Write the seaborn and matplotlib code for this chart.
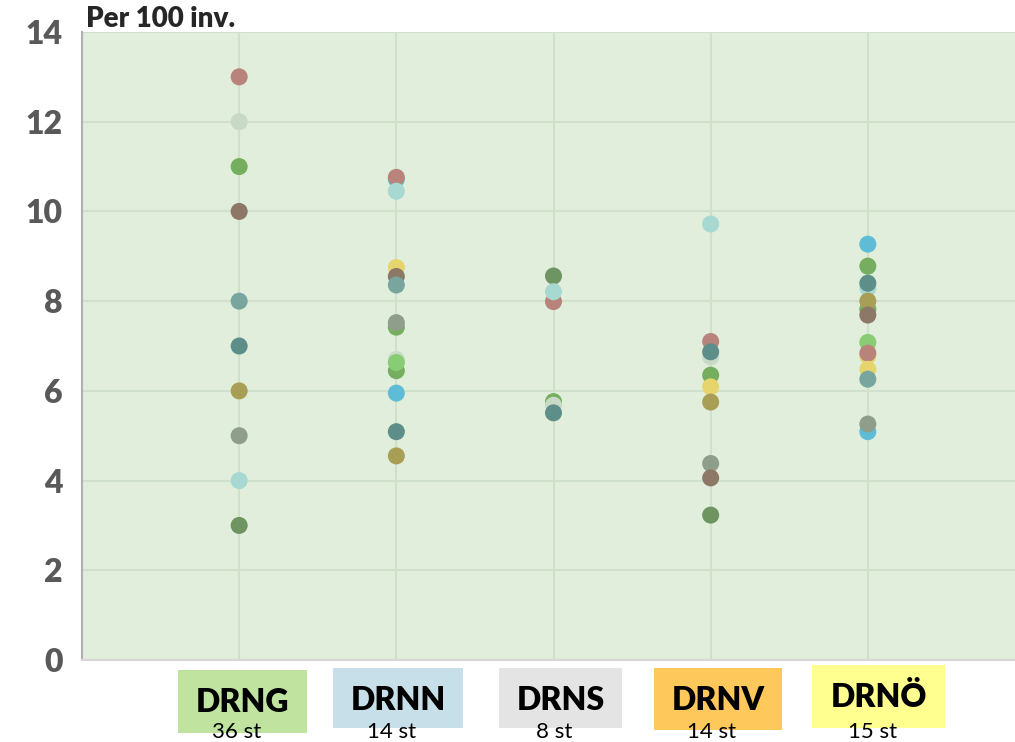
import pandas as pd
import seaborn as sns
from matplotlib import pyplot as plt
from matplotlib.patches import Rectangle

regions = ['DRNG', 'DRNN', 'DRNS', 'DRNV', 'DRNÖ']
counts = ['36 st', '14 st', '8 st', '14 st', '15 st']
box_colors = ['#c0e4a0', '#c6dfe8', '#e4e4e4', '#ffc85a', '#ffff90']

unit_colors = {
    'rb': '#b8837a', 'pale': '#c8dac6', 'green': '#74ae5e', 'brown': '#8d7868',
    'tealgrey': '#78a69e', 'darkteal': '#5e8e8a', 'olive': '#a89e56',
    'grey': '#8e9e8a', 'lteal': '#a8d8d2', 'dgreen': '#6e9462',
    'yellow': '#e6d46c', 'blue': '#5fbcd6', 'lgreen': '#88cc74',
}

drng_vals = [13, 12, 11, 10, 8, 7, 6, 5, 4, 3]
drng_cols = ['rb', 'pale', 'green', 'brown', 'tealgrey', 'darkteal', 'olive', 'grey', 'lteal', 'dgreen']
drnn_vals = [10.72, 10.76, 10.45, 8.75, 8.55, 8.36, 7.42, 7.52, 6.45, 6.70, 6.63, 5.95, 5.09, 4.55]
drnn_cols = ['blue', 'rb', 'lteal', 'yellow', 'brown', 'tealgrey', 'green', 'grey', 'green', 'pale', 'lgreen', 'blue', 'darkteal', 'olive']
drns_vals = [8.56, 7.99, 8.21, 5.76, 5.68, 5.51]
drns_cols = ['dgreen', 'rb', 'lteal', 'green', 'pale', 'darkteal']
drnv_vals = [9.72, 7.10, 6.76, 6.87, 6.35, 6.09, 5.75, 4.38, 4.06, 3.23]
drnv_cols = ['lteal', 'rb', 'pale', 'darkteal', 'green', 'yellow', 'olive', 'grey', 'brown', 'dgreen']
drno_vals = [9.27, 8.78, 8.29, 8.40, 7.82, 8.00, 7.69, 7.08, 6.78, 6.84, 6.48, 6.26, 5.09, 5.26]
drno_cols = ['blue', 'green', 'lteal', 'darkteal', 'green', 'olive', 'brown', 'lgreen', 'yellow', 'rb', 'yellow', 'tealgrey', 'blue', 'grey']

rows = []
for reg, vals, cols in zip(regions,
                           [drng_vals, drnn_vals, drns_vals, drnv_vals, drno_vals],
                           [drng_cols, drnn_cols, drns_cols, drnv_cols, drno_cols]):
    for v, c in zip(vals, cols):
        rows.append({'region': reg, 'value': v, 'unit': c})
df = pd.DataFrame(rows)

sns.set_style('white')
plt.rcParams['font.family'] = ['Lato', 'DejaVu Sans']

W, H = 1015, 742
fig = plt.figure(figsize=(W / 100, H / 100), dpi=100)
ax = fig.add_axes([82 / W, 1 - 660 / H, (1025 - 82) / W, (660 - 32) / H])
ax.set_facecolor('#e0eedb')

sns.scatterplot(data=df, x='region', y='value', hue='unit', palette=unit_colors,
                s=150, linewidth=0, legend=False, ax=ax, zorder=3)

ax.set_xlim(-1, 5)
ax.set_ylim(0, 14)
ax.set_yticks(range(0, 15, 2))
ax.set_xticks(range(5))
ax.set_xticklabels([])
ax.tick_params(axis='x', length=0)
ax.tick_params(axis='y', length=0, pad=14, labelsize=23, labelcolor='#595959')
for lab in ax.get_yticklabels():
    lab.set_fontweight('heavy')
ax.grid(True, color='#cfe1cb', linewidth=1.5, zorder=0)
ax.set_axisbelow(True)
ax.set_xlabel('')
ax.set_ylabel('')
for side in ['top', 'right']:
    ax.spines[side].set_visible(False)
ax.spines['left'].set_color('#b0b0b0')
ax.spines['left'].set_linewidth(1.5)
ax.spines['bottom'].set_color('#d6d6d6')
ax.spines['bottom'].set_linewidth(1.5)

fig.text(86 / W, 1 - 19 / H, 'Per 100 inv.', fontsize=20, fontweight='heavy',
         va='center', ha='left')

# category boxes under the axis
box_px = [(178, 670, 129, 63), (333, 668, 130, 60), (499, 668, 123, 60),
          (654, 668, 128, 62), (812, 665, 133, 63)]
for (x0, y0, w, h), name, cnt, col in zip(box_px, regions, counts, box_colors):
    fig.patches.append(Rectangle((x0 / W, 1 - (y0 + h) / H), w / W, h / H,
                                 transform=fig.transFigure, facecolor=col,
                                 edgecolor='none', zorder=1))
    cx = (x0 + w / 2) / W
    fig.text(cx, 1 - (y0 + 32) / H, name, fontsize=23, fontweight='heavy',
             ha='center', va='center', color='black', zorder=2)
    fig.text(cx - 0.006, 1 - 732 / H, cnt, fontsize=16, ha='center',
             va='center', color='black', zorder=2)

fig.savefig('out.png', dpi=100)
